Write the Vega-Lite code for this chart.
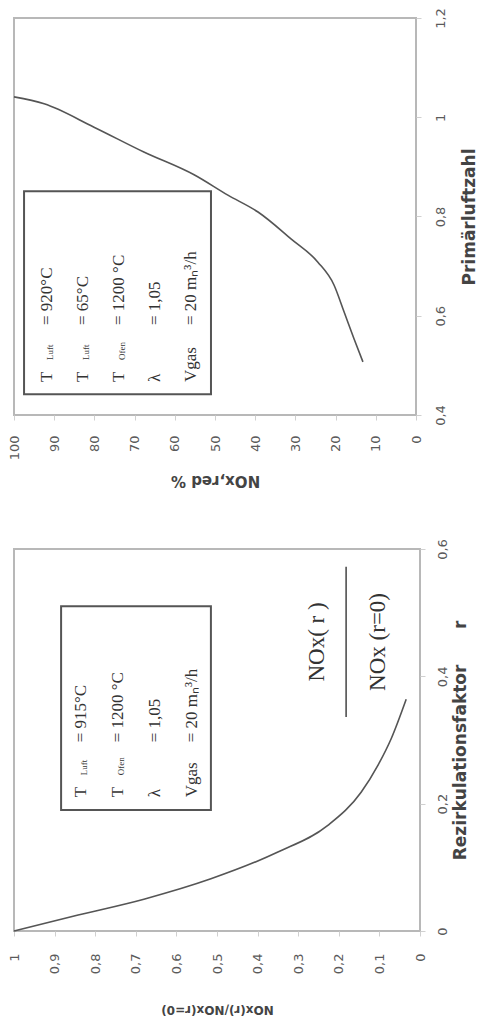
{
  "$schema": "https://vega.github.io/schema/vega-lite/v6.json",
  "background": "white",
  "padding": {"left": 7, "top": 6, "right": 0, "bottom": 0},
  "bounds": "flush",
  "spacing": 134,
  "config": {
    "view": {"stroke": "#b8b8b8", "strokeWidth": 2},
    "axis": {
      "grid": false,
      "domain": false,
      "ticks": true,
      "tickColor": "#d0d0d0",
      "tickSize": 5,
      "labelFont": "DejaVu Sans",
      "labelFontSize": 13,
      "labelColor": "#5a5a5a",
      "labelOverlap": false,
      "labelFlush": false,
      "labelBound": false,
      "titleFont": "DejaVu Sans",
      "titleFontWeight": "bold",
      "titleColor": "#444444"
    }
  },
  "datasets": {
    "primary": [
      {"p": 0.507, "nox": 13.2},
      {"p": 0.553, "nox": 15.4},
      {"p": 0.608, "nox": 17.9},
      {"p": 0.662, "nox": 20.4},
      {"p": 0.708, "nox": 24.4},
      {"p": 0.755, "nox": 31.1},
      {"p": 0.809, "nox": 39.3},
      {"p": 0.843, "nox": 46.8},
      {"p": 0.884, "nox": 55.2},
      {"p": 0.930, "nox": 67.7},
      {"p": 0.980, "nox": 80.1},
      {"p": 1.027, "nox": 92.5},
      {"p": 1.041, "nox": 100}
    ],
    "recirc": [
      {"r": 0.0, "ratio": 1.0},
      {"r": 0.025, "ratio": 0.842},
      {"r": 0.05, "ratio": 0.68},
      {"r": 0.082, "ratio": 0.515},
      {"r": 0.124, "ratio": 0.35},
      {"r": 0.166, "ratio": 0.227},
      {"r": 0.218, "ratio": 0.145},
      {"r": 0.261, "ratio": 0.103},
      {"r": 0.302, "ratio": 0.071},
      {"r": 0.364, "ratio": 0.034}
    ]
  },
  "vconcat": [
    {
      "width": 402,
      "height": 397,
      "layer": [
        {
          "data": {"name": "primary"},
          "mark": {"type": "line", "color": "#555555", "strokeWidth": 1.6, "interpolate": "monotone"},
          "encoding": {
            "x": {
              "field": "nox", "type": "quantitative",
              "scale": {"domain": [0, 100], "reverse": true, "nice": false},
              "axis": {
                "orient": "bottom",
                "values": [0, 10, 20, 30, 40, 50, 60, 70, 80, 90, 100],
                "labelAngle": 270, "labelAlign": "right", "labelBaseline": "middle", "labelPadding": 15,
                "title": "NOx,red %", "titleAngle": 180, "titleBaseline": "bottom", "titlePadding": 13, "titleFontSize": 15
              }
            },
            "y": {
              "field": "p", "type": "quantitative",
              "scale": {"domain": [0.4, 1.2], "nice": false, "zero": false},
              "axis": {
                "orient": "right",
                "values": [0.4, 0.6, 0.8, 1, 1.2],
                "labelExpr": "replace(format(datum.value, '.1~f'), '.', ',')",
                "labelAngle": 270, "labelAlign": "center", "labelBaseline": "top", "labelPadding": 13,
                "title": "Primärluftzahl", "titleAngle": 270, "titleBaseline": "top", "titlePadding": 14, "titleFontSize": 17
              }
            }
          }
        },
        {
          "data": {"values": [{}]},
          "mark": {"type": "rect", "fill": null, "stroke": "#555555", "strokeWidth": 2},
          "encoding": {"x": {"datum": 97.5}, "x2": {"datum": 51}, "y": {"datum": 0.851}, "y2": {"datum": 0.442}}
        },
        {
          "data": {"values": [{}]},
          "mark": {"type": "text", "text": ["T", "T", "T", "λ", "Vgas"], "angle": 270, "align": "left", "baseline": "top", "lineHeight": 36, "font": "Liberation Serif", "fontSize": 17, "color": "#333333"},
          "encoding": {"x": {"datum": 93.8}, "y": {"datum": 0.4665}}
        },
        {
          "data": {"values": [{}]},
          "mark": {"type": "text", "text": ["Luft", "Luft", "Ofen", "", ""], "angle": 270, "align": "left", "baseline": "top", "lineHeight": 36, "dx": 22, "dy": 7, "font": "Liberation Serif", "fontSize": 9, "color": "#333333"},
          "encoding": {"x": {"datum": 93.8}, "y": {"datum": 0.4665}}
        },
        {
          "data": {"values": [{}]},
          "mark": {"type": "text", "text": ["= 920°C", "= 65°C", "= 1200 °C", "= 1,05", "= 20 mₙ³/h"], "angle": 270, "align": "left", "baseline": "top", "lineHeight": 36, "dx": 57, "font": "Liberation Serif", "fontSize": 17, "color": "#333333"},
          "encoding": {"x": {"datum": 93.8}, "y": {"datum": 0.4665}}
        }
      ]
    },
    {
      "width": 406,
      "height": 382,
      "layer": [
        {
          "data": {"name": "recirc"},
          "mark": {"type": "line", "color": "#555555", "strokeWidth": 1.6, "interpolate": "monotone"},
          "encoding": {
            "x": {
              "field": "ratio", "type": "quantitative",
              "scale": {"domain": [0, 1], "reverse": true, "nice": false},
              "axis": {
                "orient": "bottom",
                "values": [0, 0.1, 0.2, 0.3, 0.4, 0.5, 0.6, 0.7, 0.8, 0.9, 1],
                "labelExpr": "replace(format(datum.value, '.1~f'), '.', ',')",
                "labelAngle": 270, "labelAlign": "right", "labelBaseline": "middle", "labelPadding": 17,
                "title": "NOx(r)/NOx(r=0)", "titleAngle": 180, "titleBaseline": "bottom", "titlePadding": 29, "titleFontSize": 12
              }
            },
            "y": {
              "field": "r", "type": "quantitative",
              "scale": {"domain": [0, 0.6], "nice": false},
              "axis": {
                "orient": "right",
                "values": [0, 0.2, 0.4, 0.6],
                "labelExpr": "replace(format(datum.value, '.1~f'), '.', ',')",
                "labelAngle": 270, "labelAlign": "center", "labelBaseline": "top", "labelPadding": 11,
                "title": "Rezirkulationsfaktor\u00a0\u00a0\u00a0\u00a0\u00a0\u00a0r", "titleAngle": 270, "titleBaseline": "top", "titlePadding": 3, "titleFontSize": 17
              }
            }
          }
        },
        {
          "data": {"values": [{}]},
          "mark": {"type": "rect", "fill": null, "stroke": "#555555", "strokeWidth": 2},
          "encoding": {"x": {"datum": 0.884}, "x2": {"datum": 0.515}, "y": {"datum": 0.51}, "y2": {"datum": 0.19}}
        },
        {
          "data": {"values": [{}]},
          "mark": {"type": "text", "text": ["T", "T", "λ", "Vgas"], "angle": 270, "align": "left", "baseline": "top", "lineHeight": 37, "font": "Liberation Serif", "fontSize": 17, "color": "#333333"},
          "encoding": {"x": {"datum": 0.855}, "y": {"datum": 0.21}}
        },
        {
          "data": {"values": [{}]},
          "mark": {"type": "text", "text": ["Luft", "Ofen", "", ""], "angle": 270, "align": "left", "baseline": "top", "lineHeight": 37, "dx": 22, "dy": 7, "font": "Liberation Serif", "fontSize": 9, "color": "#333333"},
          "encoding": {"x": {"datum": 0.855}, "y": {"datum": 0.21}}
        },
        {
          "data": {"values": [{}]},
          "mark": {"type": "text", "text": ["= 915°C", "= 1200 °C", "= 1,05", "= 20 mₙ³/h"], "angle": 270, "align": "left", "baseline": "top", "lineHeight": 37, "dx": 55, "font": "Liberation Serif", "fontSize": 17, "color": "#333333"},
          "encoding": {"x": {"datum": 0.855}, "y": {"datum": 0.21}}
        },
        {
          "data": {"values": [{}]},
          "mark": {"type": "text", "text": "NOx( r )", "angle": 270, "align": "center", "baseline": "middle", "font": "Liberation Serif", "fontSize": 23, "color": "#333333"},
          "encoding": {"x": {"datum": 0.254}, "y": {"datum": 0.454}}
        },
        {
          "data": {"values": [{}]},
          "mark": {"type": "text", "text": "NOx (r=0)", "angle": 270, "align": "center", "baseline": "middle", "font": "Liberation Serif", "fontSize": 23, "color": "#333333"},
          "encoding": {"x": {"datum": 0.103}, "y": {"datum": 0.454}}
        },
        {
          "data": {"values": [{}]},
          "mark": {"type": "rule", "color": "#444444", "strokeWidth": 1.5},
          "encoding": {"x": {"datum": 0.182}, "y": {"datum": 0.572}, "y2": {"datum": 0.336}}
        }
      ]
    }
  ]
}
